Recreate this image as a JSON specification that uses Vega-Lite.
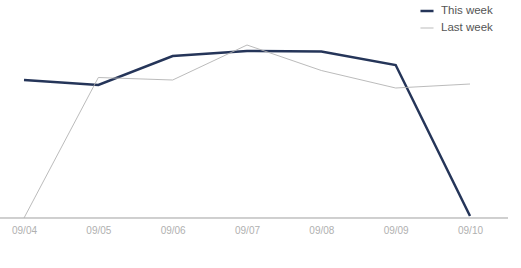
{
  "$schema": "https://vega.github.io/schema/vega-lite/v6.json",
  "autosize": "none",
  "padding": {"left": 0, "top": 0, "right": 13, "bottom": 50},
  "width": 508,
  "height": 218,
  "background": "white",
  "config": {"view": {"stroke": null}, "font": "Liberation Sans"},
  "data": {
    "values": [
      {"date": "09/04", "series": "This week", "value": 138},
      {"date": "09/05", "series": "This week", "value": 133},
      {"date": "09/06", "series": "This week", "value": 162},
      {"date": "09/07", "series": "This week", "value": 167},
      {"date": "09/08", "series": "This week", "value": 166.5},
      {"date": "09/09", "series": "This week", "value": 153},
      {"date": "09/10", "series": "This week", "value": 2},
      {"date": "09/04", "series": "Last week", "value": 0},
      {"date": "09/05", "series": "Last week", "value": 140.5},
      {"date": "09/06", "series": "Last week", "value": 138},
      {"date": "09/07", "series": "Last week", "value": 173},
      {"date": "09/08", "series": "Last week", "value": 147.5},
      {"date": "09/09", "series": "Last week", "value": 130},
      {"date": "09/10", "series": "Last week", "value": 134}
    ]
  },
  "layer": [
    {
      "mark": {"type": "rule", "color": "#cfcfcf", "strokeWidth": 1},
      "encoding": {"y": {"datum": 0, "type": "quantitative", "scale": {"domain": [0, 218], "nice": false}, "axis": null}}
    },
    {
      "mark": {"type": "line", "strokeJoin": "miter"},
      "encoding": {
        "x": {
          "field": "date", "type": "ordinal",
          "scale": {"type": "point", "range": [24, 470], "padding": 0},
          "axis": {"title": null, "domain": false, "ticks": false, "labelColor": "#b0b0b0", "labelFontSize": 10, "labelPadding": 7, "labelAngle": 0, "labelFont": "Liberation Sans"}
        },
        "y": {"field": "value", "type": "quantitative", "scale": {"domain": [0, 218], "nice": false}, "axis": null},
        "color": {
          "field": "series", "type": "nominal",
          "scale": {"domain": ["This week", "Last week"], "range": ["#253559", "#b3b3b3"]},
          "legend": {
            "title": null, "orient": "none", "legendX": 419, "legendY": 3,
            "symbolType": "stroke", "symbolSize": 170, "labelFontSize": 11.5, "labelColor": "#555555",
            "rowPadding": 4, "labelOffset": 6
          }
        },
        "strokeWidth": {
          "field": "series", "type": "nominal",
          "scale": {"domain": ["This week", "Last week"], "range": [2.5, 0.9]},
          "legend": {
            "title": null, "orient": "none", "legendX": 419, "legendY": 3,
            "symbolType": "stroke", "symbolSize": 170, "labelFontSize": 11.5, "labelColor": "#555555",
            "rowPadding": 4, "labelOffset": 6
          }
        }
      }
    }
  ]
}
